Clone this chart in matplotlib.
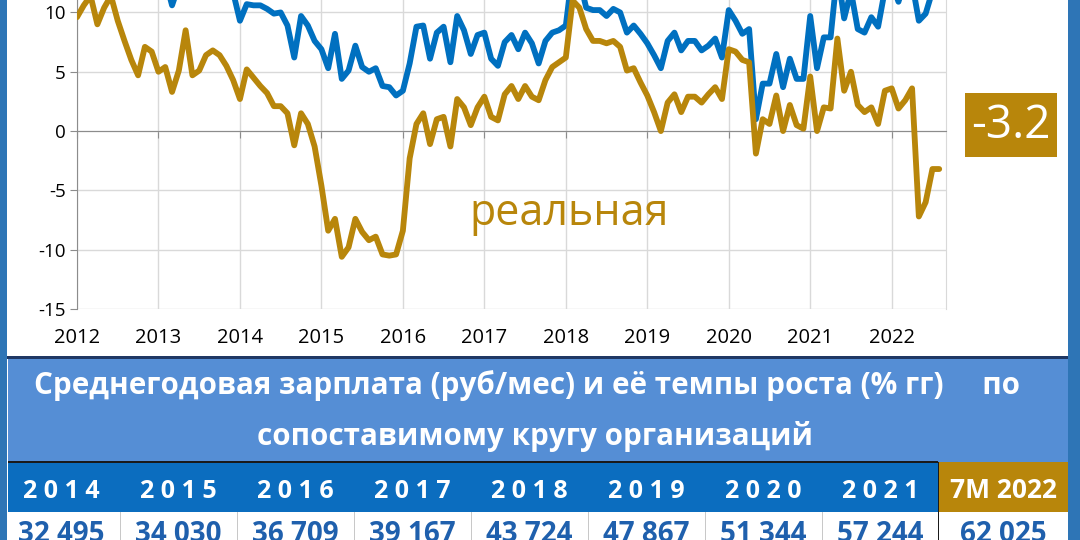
import numpy as np
import matplotlib
matplotlib.use("Agg")
import matplotlib.pyplot as plt
from matplotlib.patches import Rectangle

plt.rcParams['font.family'] = ['Open Sans', 'DejaVu Sans']
plt.rcParams['axes.unicode_minus'] = False

# monthly growth, % yoy, from Jan 2012
nominal = [15.5, 15.8, 16.2, 12.9, 14.0, 15.9, 14.8, 13.5, 12.8, 12.0, 14.0, 13.5,
           12.2, 12.8, 10.6, 12.3, 16.0, 11.9, 12.0, 13.0, 13.2, 12.7, 12.0, 11.7,
           9.3, 10.7, 10.6, 10.6, 10.3, 9.9, 10.0, 8.9, 6.2, 9.7, 8.9, 7.6,
           6.9, 5.3, 8.2, 4.4, 5.1, 7.2, 5.4, 5.0, 5.3, 3.8, 3.7, 3.0,
           3.4, 5.7, 8.8, 8.9, 6.1, 8.3, 8.8, 5.8, 9.7, 8.5, 6.5, 8.1,
           8.3, 6.1, 5.5, 7.5, 8.1, 6.9, 8.3, 7.4, 5.7, 7.6, 8.3, 8.5,
           8.9, 13.5, 12.8, 10.4, 10.2, 10.2, 9.7, 10.3, 10.0, 8.3, 8.9, 8.2,
           7.4, 6.4, 5.3, 7.6, 8.3, 6.8, 7.6, 7.6, 6.8, 7.2, 7.8, 6.2,
           10.2, 9.3, 8.2, 8.6, 1.0, 4.0, 4.0, 6.5, 3.7, 6.1, 4.4, 4.4,
           9.7, 5.3, 7.9, 7.9, 13.5, 9.5, 11.8, 8.6, 8.3, 9.6, 8.8, 11.9,
           12.5, 10.9, 13.0, 12.5, 9.3, 9.9, 11.8, 12.2]
real = [9.6, 10.6, 11.4, 9.0, 10.4, 11.4, 9.3, 7.6, 6.0, 4.7, 7.1, 6.7,
        5.0, 5.4, 3.3, 5.1, 8.5, 4.7, 5.1, 6.4, 6.8, 6.4, 5.5, 4.3,
        2.7, 5.2, 4.5, 3.8, 3.2, 2.1, 2.1, 1.5, -1.2, 1.5, 0.6, -1.3,
        -4.6, -8.4, -7.4, -10.6, -9.8, -7.4, -8.5, -9.2, -8.9, -10.4, -10.5, -10.4,
        -8.4, -2.3, 0.6, 1.5, -1.1, 1.0, 1.2, -1.3, 2.7, 2.0, 0.5, 2.0,
        2.9, 1.2, 0.9, 3.1, 3.8, 2.7, 3.8, 2.9, 2.6, 4.3, 5.4, 5.8,
        6.2, 11.0, 10.4, 8.6, 7.6, 7.6, 7.4, 7.6, 7.1, 5.1, 5.3, 4.1,
        3.0, 1.6, 0.0, 2.4, 3.1, 1.6, 2.9, 2.9, 2.4, 3.1, 3.7, 2.7,
        6.9, 6.7, 6.0, 5.8, -1.9, 1.0, 0.6, 3.0, 0.0, 2.2, 0.5, 0.2,
        4.6, 0.0, 2.0, 1.9, 7.8, 3.4, 5.0, 2.2, 1.6, 2.0, 0.6, 3.4,
        3.6, 1.9, 2.6, 3.6, -7.2, -6.0, -3.2, -3.2]

axis_years = list(range(2012, 2023))
table_years = ['2014', '2015', '2016', '2017', '2018', '2019', '2020', '2021']
table_last = '7M 2022'
wages = ['32 495', '34 030', '36 709', '39 167', '43 724', '47 867', '51 344', '57 244', '62 025']

title1 = 'Среднегодовая зарплата (руб/мес) и её темпы роста (% гг)     по'
title2 = 'сопоставимому кругу организаций'

BLUE = '#0070c0'
GOLD = '#b8860b'
W, H = 1080, 540

fig = plt.figure(figsize=(10.8, 5.4), dpi=100)


def rect(x0, y0, x1, y1, color, z=0):
    # pixel box, y from the top
    r = Rectangle((x0 / W, 1 - y1 / H), (x1 - x0) / W, (y1 - y0) / H,
                  transform=fig.transFigure, color=color, lw=0, zorder=z)
    fig.add_artist(r)


def ftext(x, y, s, **kw):
    fig.text(x / W, 1 - y / H, s, **kw)


# chart
ax = fig.add_axes([77 / W, 1 - 309 / H, (946 - 77) / W, 309 / H])
x = 2012 + np.arange(len(real)) / 12
ax.plot(x, nominal, color=BLUE, lw=4.2, solid_joinstyle='round', solid_capstyle='round', zorder=3)
ax.plot(x, real, color=GOLD, lw=4.2, solid_joinstyle='round', solid_capstyle='round', zorder=4)
ax.set_xlim(2012, 2022 + 8 / 12)
ax.set_ylim(-15, 11.05)
ax.set_yticks(range(-15, 11, 5))
ax.set_xticks(axis_years)
ax.grid(True, color='#d9d9d9', lw=1)
ax.set_axisbelow(True)
ax.spines['top'].set_visible(False)
ax.spines['right'].set_color('#d9d9d9')
ax.spines['left'].set_color('#8c8c8c')
ax.spines['bottom'].set_color('#8c8c8c')
ax.spines['bottom'].set_position(('data', 0))
ax.tick_params(axis='y', length=5, color='#8c8c8c', labelsize=13.5, pad=3)
ax.tick_params(axis='x', length=5, color='#8c8c8c', labelbottom=False)
sec = ax.secondary_xaxis('bottom')
sec.set_xticks(axis_years)
sec.tick_params(length=0, labelsize=14.5, pad=14)
sec.spines['bottom'].set_visible(False)

ax.text(2018.04, -7.0, 'реальная', color=GOLD, fontsize=31, ha='center', va='center')

# last value box
rect(965, 93, 1057, 157, GOLD, z=5)
ftext(1011, 126, f'{real[-1]:.1f}', color='white', fontsize=33, ha='center', va='center', zorder=6)

# table
rect(0, 356, W, 359, '#1f3864', z=1)
rect(8, 359, 1068, 462, '#558ed5', z=1)
ftext(527, 394, title1, color='white', fontsize=21.3, fontweight='bold', ha='center', va='baseline', zorder=2)
ftext(535, 445, title2, color='white', fontsize=21.3, fontweight='bold', ha='center', va='baseline', zorder=2)

bounds = [3, 120, 237, 354, 471, 588, 705, 822, 938, 1068]
rect(8, 462, 938, 512, '#0b6dbf', z=1)
rect(938, 462, 1068, 512, GOLD, z=1)
rect(8, 461, 938, 463, '#1a1a1a', z=2)
for i, yr in enumerate(table_years):
    cx = (bounds[i] + bounds[i + 1]) / 2
    ftext(cx, 498, ' '.join(yr), color='white', fontsize=18, fontweight='bold',
          ha='center', va='baseline', zorder=3)
ftext((bounds[-2] + bounds[-1]) / 2, 498, table_last, color='white', fontsize=19,
      fontweight='bold', ha='center', va='baseline', zorder=3)
for b in bounds[1:-2]:
    rect(b - 0.5, 512, b + 0.5, H, '#c8c8c8', z=2)
rect(937.5, 462, 939, H, '#1a1a1a', z=2)
for i, v in enumerate(wages):
    cx = (bounds[i] + bounds[i + 1]) / 2
    ftext(cx, 542, v, color='#1f60ad', fontsize=20, fontweight='bold',
          ha='center', va='baseline', zorder=3)

# side strips
rect(0, 0, 7, H, '#2e75b6', z=7)
rect(1068, 0, W, H, '#2e75b6', z=7)

fig.savefig('out.png', dpi=100)
